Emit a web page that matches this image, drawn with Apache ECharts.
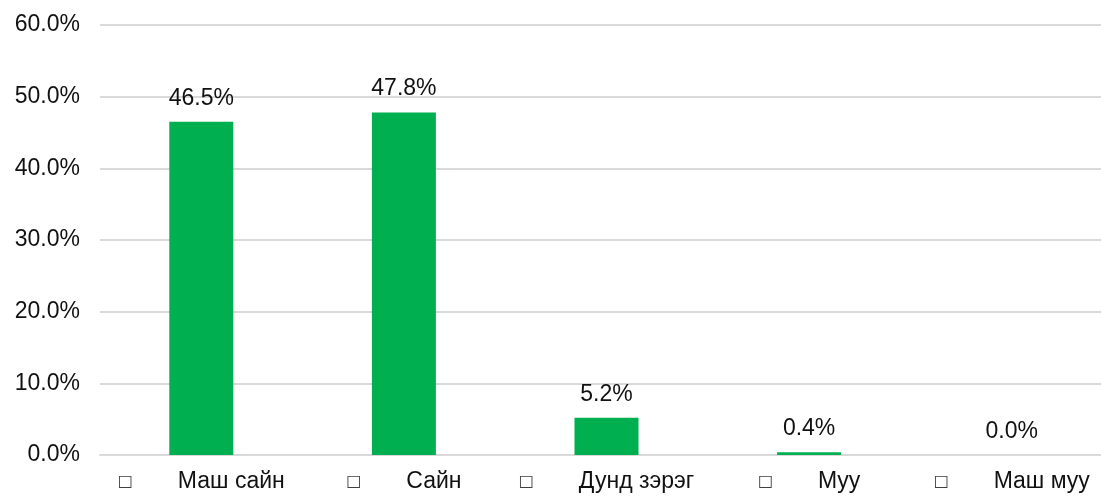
<!DOCTYPE html>
<html>
<head>
<meta charset="utf-8">
<script src="https://cdn.jsdelivr.net/npm/echarts@6/dist/echarts.min.js"></script>
<style>
  html, body { margin: 0; padding: 0; background: #fff; overflow: hidden; }
  #chart { width: 1113px; height: 496px; }
</style>
</head>
<body>
<div id="chart"></div>
<script>
// үнэлгээний ангилал
const categories = ['Маш сайн', 'Сайн', 'Дунд зэрэг', 'Муу', 'Маш муу'];
// хувь (%)
const percents = [46.5, 47.8, 5.2, 0.4, 0.0];
// y тэнхлэг
const yMin = 0;
const yMax = 60;
const yStep = 10;

const myChart = echarts.init(document.getElementById('chart'));

const option = {
  animation: false,
  grid: {
    left: 100,
    right: 0,
    top: 25,
    bottom: 41
  },
  xAxis: {
    type: 'category',
    data: categories,
    axisLine: { show: true, lineStyle: { color: '#d9d9d9', width: 2 } },
    axisTick: { show: false },
    axisLabel: {
      margin: 15,
      interval: 0,
      formatter: function (name) {
        return '{s|□}{t|' + name + '}';
      },
      rich: {
        s: { fontFamily: 'DejaVu Sans', fontSize: 16, color: '#404040', width: 60, align: 'left' },
        t: { fontFamily: 'Liberation Sans', fontSize: 23, color: '#111' }
      }
    }
  },
  yAxis: {
    type: 'value',
    min: yMin,
    max: yMax,
    interval: yStep,
    axisLine: { show: false },
    axisTick: { show: false },
    splitLine: { lineStyle: { color: '#d9d9d9', width: 2 } },
    axisLabel: {
      margin: 20,
      fontFamily: 'Liberation Sans',
      fontSize: 23,
      color: '#111',
      formatter: function (v) { return v.toFixed(1) + '%'; }
    }
  },
  series: [
    {
      type: 'bar',
      data: percents,
      barWidth: 64,
      itemStyle: { color: '#00b050' },
      label: {
        show: true,
        position: 'top',
        distance: 12,
        fontFamily: 'Liberation Sans',
        fontSize: 23,
        color: '#111',
        formatter: function (p) { return p.value.toFixed(1) + '%'; }
      }
    }
  ]
};

myChart.setOption(option);
</script>
</body>
</html>
